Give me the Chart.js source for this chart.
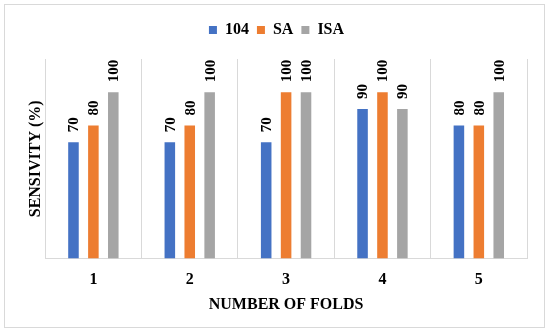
<!DOCTYPE html>
<html>
<head>
<meta charset="utf-8">
<script src="https://cdn.jsdelivr.net/npm/chart.js@4.4.0/dist/chart.umd.min.js"></script>
<style>
  html, body { margin: 0; padding: 0; background: #fff; }
  canvas { display: block; }
</style>
</head>
<body>
<canvas id="chart" width="550" height="334"></canvas>
<script>
const folds = ["1", "2", "3", "4", "5"];
const values104 = [70, 70, 70, 90, 80];
const valuesSA = [80, 80, 100, 100, 80];
const valuesISA = [100, 100, 100, 90, 100];
const yMin = 0;
const yMax = 120;

const FONT = "'Liberation Serif', 'Times New Roman', serif";
const GRID = "#d9d9d9";

// outer frame + white background
const framePlugin = {
  id: "frame",
  beforeDraw(chart) {
    const ctx = chart.ctx;
    ctx.save();
    ctx.fillStyle = "#fff";
    ctx.fillRect(0, 0, chart.width, chart.height);
    ctx.strokeStyle = GRID;
    ctx.lineWidth = 1;
    ctx.strokeRect(4.5, 4.5, 540, 323);
    ctx.restore();
  },
};

// rotated value labels above the bars
const valueLabels = {
  id: "valueLabels",
  afterDatasetsDraw(chart) {
    const ctx = chart.ctx;
    ctx.save();
    ctx.fillStyle = "#000";
    ctx.font = "bold 15px " + FONT;
    ctx.textAlign = "left";
    ctx.textBaseline = "middle";
    chart.data.datasets.forEach((ds, i) => {
      chart.getDatasetMeta(i).data.forEach((bar, j) => {
        ctx.save();
        ctx.translate(bar.x + 1, bar.y - 10);
        ctx.rotate(-Math.PI / 2);
        ctx.fillText(String(ds.data[j]), 0, 0);
        ctx.restore();
      });
    });
    ctx.restore();
  },
};

new Chart(document.getElementById("chart"), {
  type: "bar",
  data: {
    labels: folds,
    datasets: [
      { label: "104", data: values104, backgroundColor: "#4472c4" },
      { label: "SA", data: valuesSA, backgroundColor: "#ed7d31" },
      { label: "ISA", data: valuesISA, backgroundColor: "#a5a5a5" },
    ],
  },
  options: {
    responsive: false,
    animation: false,
    categoryPercentage: 0.62,
    barPercentage: 0.53,
    layout: { padding: { left: 26, right: 23, top: 14, bottom: 20 } },
    plugins: {
      legend: {
        position: "top",
        labels: {
          boxWidth: 8,
          boxHeight: 8,
          padding: 8,
          color: "#000",
          font: { family: FONT, size: 16, weight: "bold" },
        },
      },
      // empty spacer between legend and plot
      title: {
        display: true,
        text: "",
        weight: 500,
        padding: 0,
        font: { size: 11, lineHeight: 1 },
      },
      tooltip: { enabled: false },
    },
    scales: {
      x: {
        grid: { display: true, color: GRID, drawTicks: false, offset: true },
        border: { display: true, color: GRID },
        ticks: {
          padding: 12,
          color: "#000",
          font: { family: FONT, size: 16, weight: "bold" },
        },
        title: {
          display: true,
          text: "NUMBER OF FOLDS",
          color: "#000",
          padding: { top: -7, bottom: 0 },
          font: { family: FONT, size: 16, weight: "bold" },
        },
      },
      y: {
        min: yMin,
        max: yMax,
        grid: { display: false, drawTicks: false },
        border: { display: true, color: GRID },
        ticks: { display: false },
        title: {
          display: true,
          text: "SENSIVITY (%)",
          color: "#000",
          padding: 0,
          font: { family: FONT, size: 16, weight: "bold" },
        },
      },
    },
  },
  plugins: [framePlugin, valueLabels],
});
</script>
</body>
</html>
